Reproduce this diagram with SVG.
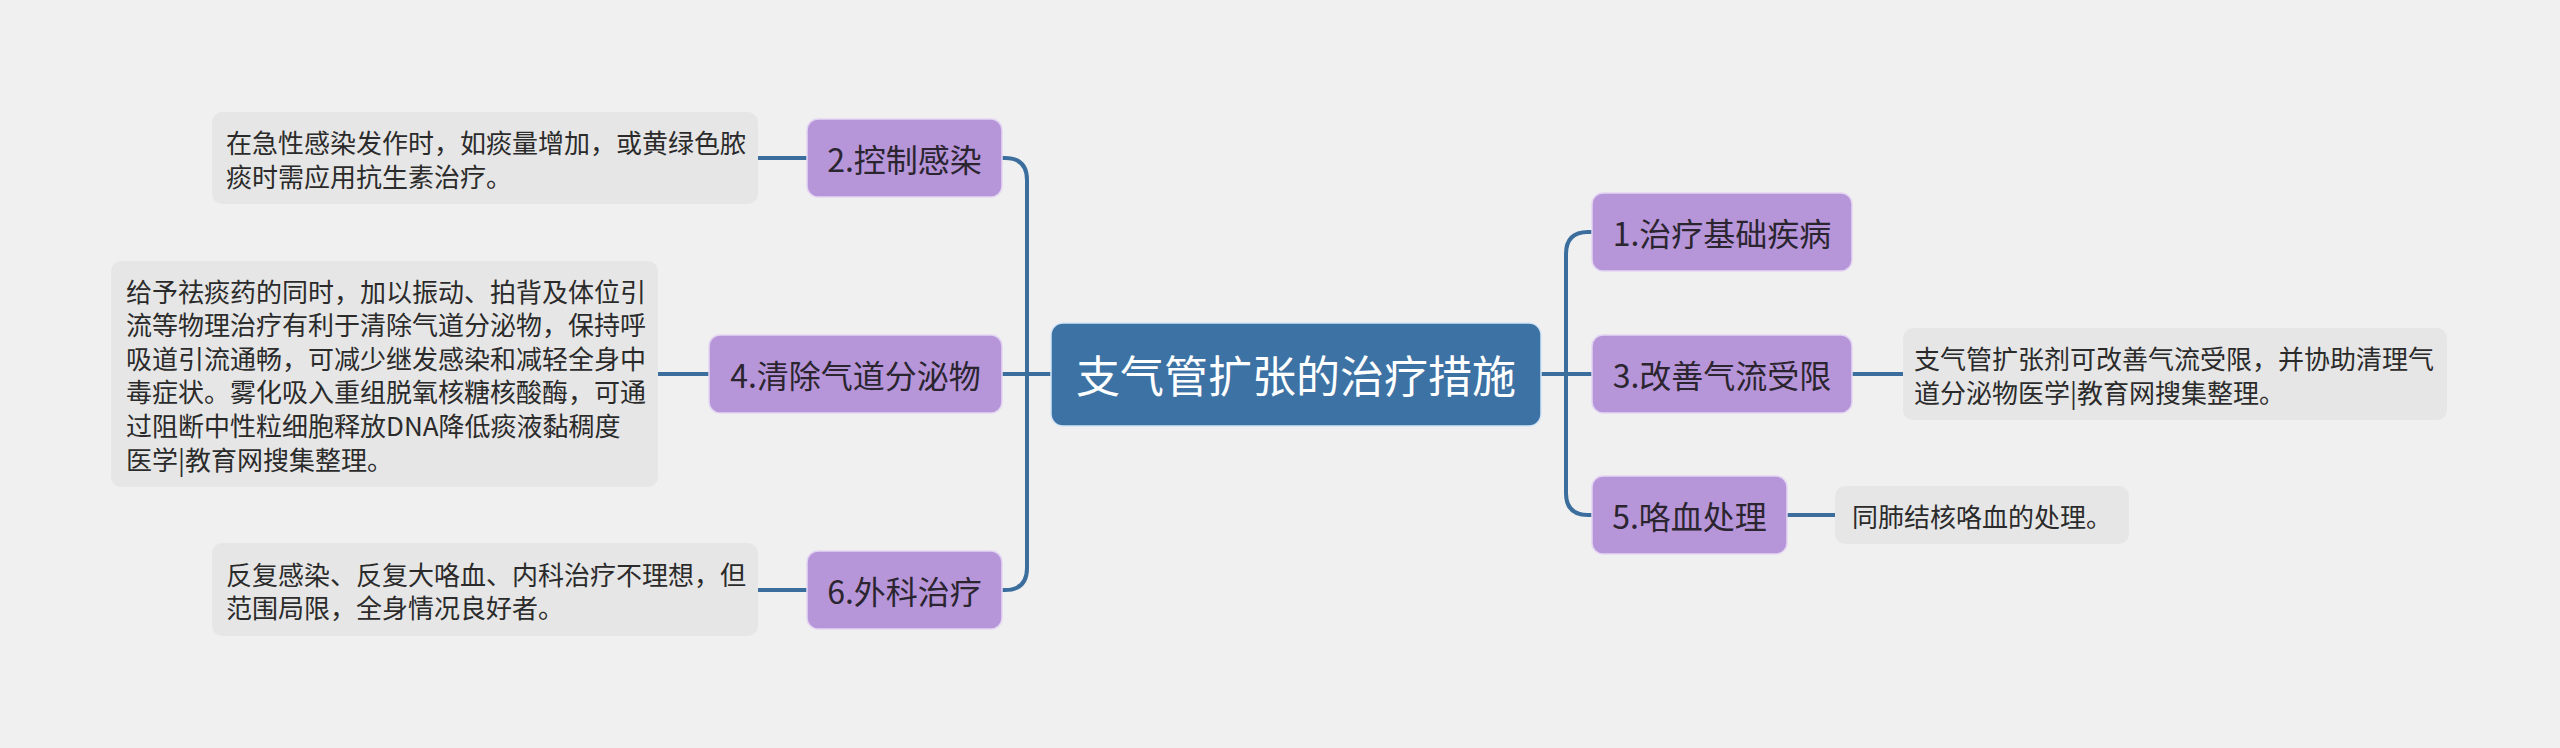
<svg xmlns="http://www.w3.org/2000/svg" width="2560" height="748" viewBox="0 0 2560 748">
<style>
text{font-family:"Microsoft YaHei","Noto Sans CJK SC","Noto Sans",sans-serif;}
.root rect{fill:#3d72a4;stroke:#d4e6f6;stroke-width:1.5;}
.root text{fill:#ffffff;font-size:44px;text-anchor:middle;dominant-baseline:central;}
.l1 rect{fill:#b795d9;stroke:#e4d6f2;stroke-width:1.5;}
.l1 text{fill:#2b2530;font-size:32px;text-anchor:middle;dominant-baseline:central;}
.leaf rect{fill:#e6e6e6;}
.leaf text{fill:#2b2b2b;font-size:26px;dominant-baseline:central;}
.conn path{fill:none;stroke:#3b6d9d;stroke-width:4;stroke-linecap:butt;}
</style>
<rect x="0" y="0" width="2560" height="748" fill="#f0f0f0"/>
<g class="conn" id="connectors">
<path d="M1051,374 H1001"/>
<path d="M1001,158 H1005 Q1027,158 1027,180 V568 Q1027,590 1005,590 H1001"/>
<path d="M1541,374 H1592"/>
<path d="M1592,232 H1588 Q1566,232 1566,254 V493 Q1566,515 1588,515 H1592"/>
<path d="M807,158 H758"/>
<path d="M709,374 H658"/>
<path d="M807,590 H758"/>
<path d="M1851,374 H1903"/>
<path d="M1786,515 H1835"/>
</g>
<g class="root" id="root">
<rect x="1051" y="323" width="490" height="103" rx="12"/>
<text x="1296" y="374">支气管扩张的治疗措施</text>
</g>
<g class="l1" id="n2">
<rect x="807" y="119" width="195" height="78" rx="11"/>
<text x="904.5" y="158">2.控制感染</text>
</g>
<g class="l1" id="n4">
<rect x="709" y="335" width="293" height="78" rx="11"/>
<text x="855.5" y="374">4.清除气道分泌物</text>
</g>
<g class="l1" id="n6">
<rect x="807" y="551" width="195" height="78" rx="11"/>
<text x="904.5" y="590">6.外科治疗</text>
</g>
<g class="l1" id="n1">
<rect x="1592" y="193" width="260" height="78" rx="11"/>
<text x="1722" y="232">1.治疗基础疾病</text>
</g>
<g class="l1" id="n3">
<rect x="1592" y="335" width="260" height="78" rx="11"/>
<text x="1722" y="374">3.改善气流受限</text>
</g>
<g class="l1" id="n5">
<rect x="1592" y="476" width="195" height="78" rx="11"/>
<text x="1689.5" y="515">5.咯血处理</text>
</g>
<g class="leaf" id="leaf2">
<rect x="212" y="112" width="546" height="92" rx="10"/>
<text x="226" y="141">在急性感染发作时，如痰量增加，或黄绿色脓</text>
<text x="226" y="175">痰时需应用抗生素治疗。</text>
</g>
<g class="leaf" id="leaf4">
<rect x="111" y="261" width="547" height="226" rx="10"/>
<text x="126" y="290">给予祛痰药的同时，加以振动、拍背及体位引</text>
<text x="126" y="323.6">流等物理治疗有利于清除气道分泌物，保持呼</text>
<text x="126" y="357.2">吸道引流通畅，可减少继发感染和减轻全身中</text>
<text x="126" y="390.8">毒症状。雾化吸入重组脱氧核糖核酸酶，可通</text>
<text x="126" y="424.4">过阻断中性粒细胞释放DNA降低痰液黏稠度</text>
<text x="126" y="458">医学|教育网搜集整理。</text>
</g>
<g class="leaf" id="leaf6">
<rect x="212" y="543" width="546" height="93" rx="10"/>
<text x="226" y="573">反复感染、反复大咯血、内科治疗不理想，但</text>
<text x="226" y="606.5">范围局限，全身情况良好者。</text>
</g>
<g class="leaf" id="leaf3">
<rect x="1903" y="328" width="544" height="92" rx="10"/>
<text x="1914" y="357">支气管扩张剂可改善气流受限，并协助清理气</text>
<text x="1914" y="391">道分泌物医学|教育网搜集整理。</text>
</g>
<g class="leaf" id="leaf5">
<rect x="1835" y="486" width="294" height="58" rx="10"/>
<text x="1852" y="515">同肺结核咯血的处理。</text>
</g>
</svg>
